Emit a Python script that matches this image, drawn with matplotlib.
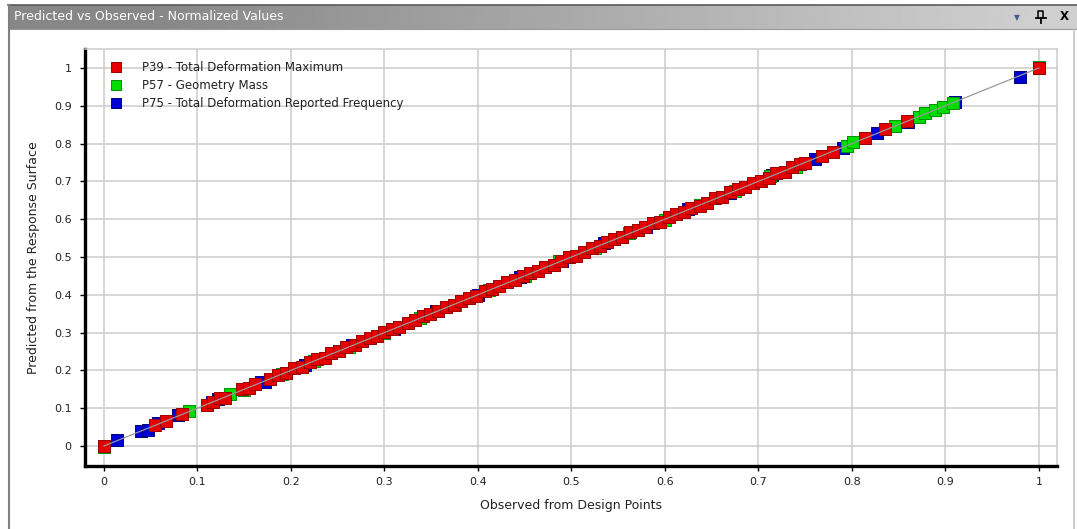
import numpy as np
import matplotlib.pyplot as plt
from matplotlib.lines import Line2D
from matplotlib.ticker import FuncFormatter

W, H = 1077, 529

# normalized observed (design points) vs predicted (response surface) values
p39_obs = [0.000, 0.055, 0.066, 0.083, 0.110, 0.117, 0.124, 0.129, 0.148, 0.155,
           0.162, 0.178, 0.186, 0.195, 0.203, 0.212, 0.220, 0.228, 0.236, 0.243,
           0.251, 0.259, 0.268, 0.276, 0.284, 0.292, 0.300, 0.308, 0.316, 0.325,
           0.333, 0.341, 0.349, 0.357, 0.366, 0.374, 0.382, 0.390, 0.398, 0.407,
           0.415, 0.423, 0.431, 0.440, 0.448, 0.456, 0.464, 0.472, 0.481, 0.489,
           0.497, 0.505, 0.513, 0.522, 0.530, 0.538, 0.546, 0.554, 0.563, 0.571,
           0.579, 0.587, 0.595, 0.604, 0.612, 0.620, 0.628, 0.637, 0.645, 0.653,
           0.661, 0.670, 0.678, 0.686, 0.694, 0.703, 0.711, 0.719, 0.728, 0.736,
           0.744, 0.750, 0.768, 0.780, 0.814, 0.835, 0.859, 1.000]
p39_pred = [0.000, 0.056, 0.065, 0.085, 0.109, 0.116, 0.126, 0.128, 0.150, 0.153,
            0.163, 0.176, 0.187, 0.193, 0.205, 0.210, 0.221, 0.229, 0.234, 0.245,
            0.250, 0.261, 0.266, 0.277, 0.286, 0.290, 0.301, 0.309, 0.314, 0.326,
            0.332, 0.343, 0.348, 0.356, 0.368, 0.372, 0.383, 0.391, 0.396, 0.409,
            0.414, 0.422, 0.433, 0.438, 0.449, 0.457, 0.462, 0.474, 0.480, 0.488,
            0.499, 0.503, 0.514, 0.524, 0.528, 0.539, 0.547, 0.552, 0.565, 0.570,
            0.578, 0.589, 0.593, 0.605, 0.613, 0.618, 0.630, 0.636, 0.644, 0.655,
            0.659, 0.671, 0.679, 0.684, 0.696, 0.702, 0.710, 0.721, 0.726, 0.737,
            0.745, 0.748, 0.766, 0.778, 0.815, 0.838, 0.860, 1.000]

p57_obs = [0.000, 0.091, 0.135, 0.150, 0.190, 0.225, 0.262, 0.300, 0.338, 0.375,
           0.412, 0.450, 0.487, 0.525, 0.562, 0.600, 0.637, 0.675, 0.712, 0.740,
           0.795, 0.801, 0.846, 0.872, 0.878, 0.889, 0.897, 0.908, 1.000]
p57_pred = [-0.002, 0.093, 0.137, 0.149, 0.191, 0.224, 0.263, 0.299, 0.339, 0.374,
            0.413, 0.449, 0.488, 0.524, 0.563, 0.599, 0.638, 0.674, 0.713, 0.739,
            0.793, 0.803, 0.846, 0.871, 0.880, 0.889, 0.896, 0.907, 1.002]

p75_obs = [0.014, 0.040, 0.047, 0.058, 0.079, 0.115, 0.122, 0.168, 0.172, 0.215,
           0.265, 0.310, 0.355, 0.400, 0.445, 0.490, 0.535, 0.580, 0.625, 0.670,
           0.715, 0.760, 0.790, 0.827, 0.860, 0.910, 0.980]
p75_pred = [0.016, 0.040, 0.043, 0.060, 0.081, 0.117, 0.125, 0.170, 0.168, 0.214,
            0.267, 0.309, 0.356, 0.399, 0.446, 0.489, 0.536, 0.579, 0.626, 0.669,
            0.716, 0.759, 0.788, 0.829, 0.858, 0.911, 0.976]

labels = ["P39 - Total Deformation Maximum",
          "P57 - Geometry Mass",
          "P75 - Total Deformation Reported Frequency"]
face = ["#e50000", "#00dc00", "#0000d2"]
edge = ["#9b0000", "#009000", "#000088"]

ticks = [0, 0.1, 0.2, 0.3, 0.4, 0.5, 0.6, 0.7, 0.8, 0.9, 1]

fig = plt.figure(figsize=(W / 100, H / 100), dpi=100, facecolor="white")

# window chrome drawn in pixel coordinates
win = fig.add_axes([0, 0, 1, 1], zorder=0)
win.set_xlim(0, W)
win.set_ylim(H, 0)
win.axis("off")
xs = np.arange(9, W)
shade = 0.53 + 0.28 * np.clip((xs - 150) / 880.0, 0, 1)
win.imshow(np.tile(shade, (2, 1)), cmap="gray", vmin=0, vmax=1, aspect="auto",
           extent=(9, W, 29, 5), interpolation="bilinear")
win.plot([8, W], [4.5, 4.5], color="#5a5a5a", lw=1.2)
win.plot([9, W], [28.5, 28.5], color="#9a9a9a", lw=0.8)
win.plot([9, 9], [5, H], color="#808080", lw=1.5)
win.plot([1074, 1074], [29, H], color="#c4c4c4", lw=1.2)
win.text(14, 17, "Predicted vs Observed - Normalized Values", color="white",
         fontsize=9, va="center", ha="left")
win.text(1017, 17.5, "\u25BC", color="#4a5a88", fontsize=5.5, va="center", ha="center")
win.plot([1038, 1038, 1043, 1043], [18, 11, 11, 18], color="black", lw=1.1)
win.plot([1036, 1046], [18, 18], color="black", lw=1.3)
win.plot([1041, 1041], [18, 23], color="black", lw=1.3)
win.text(1064, 17, "X", color="black", fontsize=8.5, fontweight="bold",
         va="center", ha="center")

ax = fig.add_axes([85 / W, 1 - 466 / H, 972 / W, 417 / H], zorder=1)
ax.set_facecolor("white")

series = [(p75_obs, p75_pred, 2), (p57_obs, p57_pred, 1), (p39_obs, p39_pred, 0)]
for obs, pred, k in series:
    ax.scatter(obs, pred, s=84, marker="s", color=face[k], edgecolors=edge[k],
               linewidths=0.7, zorder=3)

ax.plot([0, 1], [0, 1], color="#999999", lw=0.9, zorder=4)

ax.set_xlim(-0.0203, 1.0193)
ax.set_ylim(-0.0529, 1.050)
ax.set_xticks(ticks)
ax.set_yticks(ticks)
fmt = FuncFormatter(lambda v, p: "%g" % v)
ax.xaxis.set_major_formatter(fmt)
ax.yaxis.set_major_formatter(fmt)
ax.grid(True, color="#cccccc", lw=1.1, zorder=0)
ax.set_axisbelow(True)
ax.tick_params(direction="out", length=3.6, width=1, colors="black",
               labelsize=8, labelcolor="#222222")
ax.tick_params(axis="y", pad=6)
ax.tick_params(axis="x", pad=4)

for side in ("left", "bottom"):
    ax.spines[side].set_linewidth(2.4)
    ax.spines[side].set_color("black")
for side in ("top", "right"):
    ax.spines[side].set_linewidth(1.1)
    ax.spines[side].set_color("#cccccc")

ax.set_xlabel("Observed from Design Points", fontsize=9, color="#222222", labelpad=9)
ax.set_ylabel("Predicted from the Response Surface", fontsize=9, color="#222222",
              labelpad=10)

handles = [Line2D([], [], ls="none", marker="s", markersize=7.8,
                  markerfacecolor=face[k], markeredgecolor=edge[k],
                  markeredgewidth=0.7) for k in range(3)]
ax.legend(handles, labels, loc="upper left", bbox_to_anchor=(0.026, 0.972),
          frameon=False, fontsize=8.5, borderpad=0, borderaxespad=0,
          handlelength=1.0, handletextpad=1.72, labelspacing=0.45,
          labelcolor="#222222")

fig.savefig("out.png", dpi=100, facecolor="white")
